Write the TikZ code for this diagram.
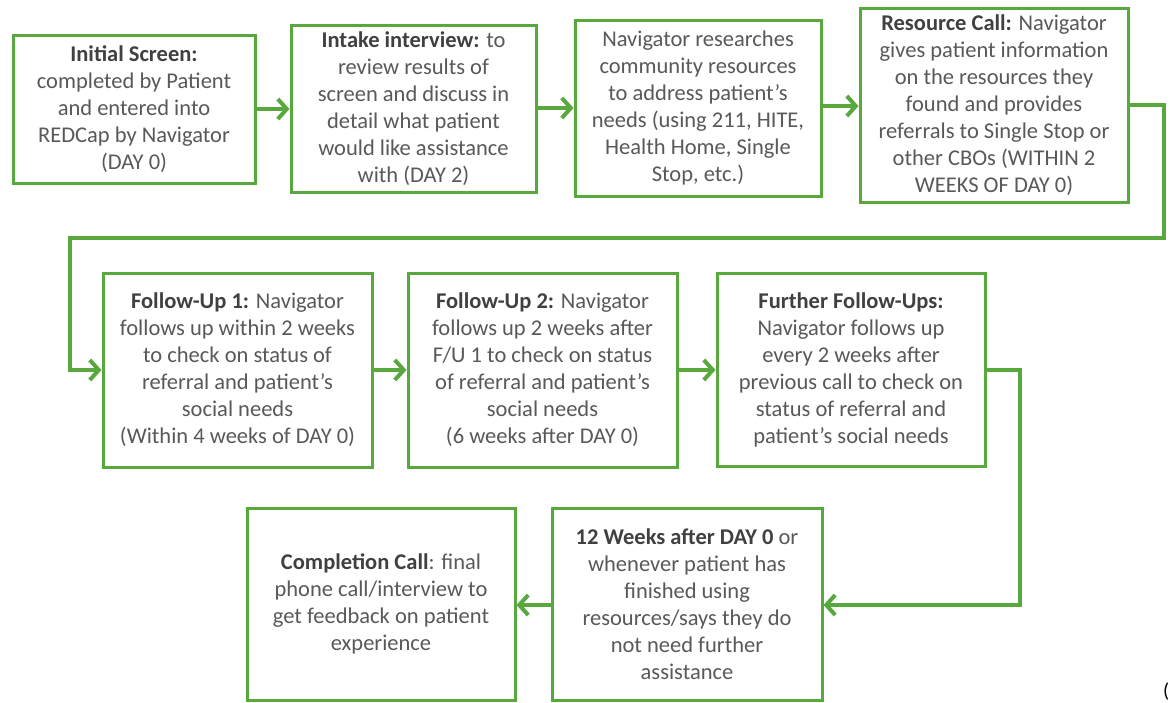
\documentclass[tikz,border=0pt]{standalone}
\usepackage{fontspec}
\setmainfont{Carlito}
\usetikzlibrary{arrows.meta}
\definecolor{fgreen}{RGB}{88,168,62}
\definecolor{ftext}{RGB}{89,89,89}
\definecolor{fbold}{RGB}{64,64,64}
\newcommand{\hd}[1]{\textbf{\color{fbold}#1}}
\begin{document}
\begin{tikzpicture}[x=1pt,y=-1pt,
  box/.style={draw=fgreen, line width=3pt, fill=white, align=center, inner sep=4pt,
    text=ftext, font=\fontsize{22.5}{27}\selectfont},
  link/.style={draw=fgreen, line width=4pt, line join=miter,
    -{Straight Barb[length=9pt,width=20pt,line width=4pt]}}
]
\useasboundingbox[fill=white] (0,0) rectangle (1175,702);

\node[box, minimum width=242pt, minimum height=148pt] (b1) at (134,109)
  {\hd{Initial Screen:}\\completed by Patient\\and entered into\\REDCap by Navigator\\(DAY 0)};
\node[box, minimum width=245pt, minimum height=167pt] (b2) at (413.5,108.5)
  {\hd{Intake interview:} to\\review results of\\screen and discuss in\\detail what patient\\would like assistance\\with (DAY 2)};
\node[box, minimum width=246pt, minimum height=176pt] (b3) at (698,108)
  {Navigator researches\\community resources\\to address patient’s\\needs (using 211, HITE,\\Health Home, Single\\Stop, etc.)};
\node[box, minimum width=268pt, minimum height=194pt] (b4) at (994,105)
  {\hd{Resource Call:} Navigator\\gives patient information\\on the resources they\\found and provides\\referrals to Single Stop or\\other CBOs (WITHIN 2\\WEEKS OF DAY 0)};

\node[box, minimum width=269pt, minimum height=194pt] (f1) at (237.5,370)
  {\hd{Follow-Up 1:} Navigator\\follows up within 2 weeks\\to check on status of\\referral and patient’s\\social needs\\(Within 4 weeks of DAY 0)};
\node[box, minimum width=269pt, minimum height=194pt] (f2) at (542.5,370)
  {\hd{Follow-Up 2:} Navigator\\follows up 2 weeks after\\F/U 1 to check on status\\of referral and patient’s\\social needs\\(6 weeks after DAY 0)};
\node[box, minimum width=268pt, minimum height=193pt] (f3) at (851,369.5)
  {\hd{Further Follow-Ups:}\\Navigator follows up\\every 2 weeks after\\previous call to check on\\status of referral and\\patient’s social needs};

\node[box, minimum width=270pt, minimum height=192pt] (w12) at (687,604)
  {\hd{12 Weeks after DAY 0} or\\whenever patient has\\finished using\\resources/says they do\\not need further\\assistance};
\node[box, minimum width=268pt, minimum height=192pt] (cc) at (381,604)
  {\hd{Completion Call}: final\\phone call/interview to\\get feedback on patient\\experience};

\node[text=black, font=\fontsize{20}{24}\selectfont, anchor=south west, inner sep=1pt] (paren) at (1162,701) {(};

\coordinate (r1) at (1164,105);
\coordinate (r2) at (1164,238);
\coordinate (r3) at (70,238);
\coordinate (s1) at (1020,370);
\coordinate (s2) at (1020,605);

\draw[link] (b1.east) -- (b1.east -| b2.west);
\draw[link] (b2.east |- 0,108) -- (b3.west |- 0,108);
\draw[link] (b3.east |- 0,106) -- (b4.west |- 0,106);
\draw[link] (b4.east) -- (r1) -- (r2) -- (r3) -- (r3 |- f1.west) -- (f1.west);
\draw[link] (f1.east) -- (f2.west);
\draw[link] (f2.east) -- (f3.west |- f2.east);
\draw[link] (f3.east |- s1) -- (s1) -- (s2) -- (w12.east |- s2);
\draw[link] (w12.west |- s2) -- (cc.east |- s2);
\end{tikzpicture}
\end{document}
